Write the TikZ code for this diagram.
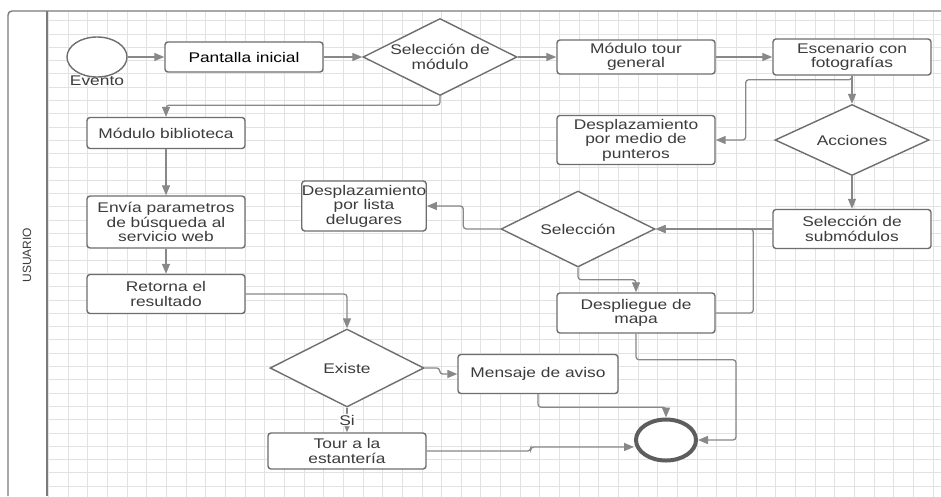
\documentclass[tikz,border=0pt]{standalone}
\usepackage{fontspec}
\setmainfont{Liberation Sans}
\newfontfamily\diafont[FakeStretch=1.24]{Liberation Sans}
\usetikzlibrary{arrows.meta,shapes.geometric,positioning}
\definecolor{linegray}{HTML}{888888}
\definecolor{boxgray}{HTML}{6E6E6E}
\definecolor{txtgray}{HTML}{3C3C3C}
\definecolor{gridgray}{HTML}{E2E2E2}
\definecolor{framegray}{HTML}{7A7A7A}

\begin{document}
\begin{tikzpicture}[>={Triangle[length=10pt,width=8pt]},x=1pt,y=-1pt,
                    node distance=196pt,
                    font=\diafont\fontsize{14}{14.5}\selectfont]
  \tikzstyle{box}=[draw=boxgray,fill=white,line width=1.4pt,rounded corners=3pt,
                   text=txtgray,align=center,inner sep=2pt,
                   minimum width=158pt,minimum height=36pt]
  \tikzstyle{decision}=[diamond,aspect=2,draw=boxgray,fill=white,line width=1.4pt,
                   text=txtgray,align=center,inner sep=0pt,
                   minimum width=154pt,minimum height=77pt]
  \tikzstyle{flow}=[->,draw=linegray,line width=1.3pt,rounded corners=3pt]

  % fondo, cuadricula y carril
  \useasboundingbox (0,0) rectangle (941,496);
  \fill[white] (0,0) rectangle (941,496);
  \begin{scope}
    \clip (47,11) rectangle (941,496);
    \draw[gridgray,line width=0.7pt,xstep=19.66pt,ystep=13.3pt,shift={(9,7.3)}]
      (-40,-40) grid (980,540);
  \end{scope}
  \draw[framegray,line width=1.4pt,rounded corners=4pt] (8,496) -- (8,11) -- (941,11);
  \draw[framegray,line width=2pt] (47,11) -- (47,496);
  \node[rotate=90,text=txtgray,font=\fontsize{12}{14}\selectfont] (usuario) at (27,255) {USUARIO};

  \node[ellipse,draw=boxgray,fill=white,line width=1.4pt,minimum width=60pt,minimum height=40pt,
        label={[text=txtgray,label distance=-5pt]below:Evento}] (evento) at (97,57) {};
  \node[box,text=black,minimum height=30pt] (pantalla) [right of=evento,node distance=147pt] {Pantalla inicial};
  \node[decision]           (selmod)     [right of=pantalla]   {Selección de\\módulo};
  \node[box,minimum height=34pt] (tourgen) [right of=selmod]   {Módulo tour\\general};
  \node[box]                (escenario)  [right of=tourgen,node distance=216pt] {Escenario con\\fotografías};
  \node[box,minimum height=49pt] (punteros) [below of=tourgen,node distance=83pt] {Desplazamiento\\por medio de\\punteros};
  \node[decision,minimum height=71pt] (acciones) [below of=escenario,node distance=83pt] {Acciones};
  \node[box,minimum height=39pt] (submod) [below of=acciones,node distance=89pt] {Selección de\\submódulos};
  \node[decision,minimum height=76pt] (seleccion) [left of=submod,node distance=274pt] {Selección};
  \node[box,minimum width=124pt,minimum height=50pt,inner sep=0pt] (lista)
        [left of=seleccion,node distance=214pt,yshift=23pt] {Desplazamiento\\por lista\\delugares};
  \node[box,minimum height=40pt] (despliegue) [below of=punteros,node distance=173pt] {Despliegue de\\mapa};

  \node[box,minimum height=31pt] (biblioteca) at (166,133) {Módulo biblioteca};
  \node[box,minimum height=52pt] (envia)   [below of=biblioteca,node distance=89pt] {Envía parametros\\de búsqueda al\\servicio web};
  \node[box,minimum height=39pt] (retorna) [below of=envia,node distance=72pt] {Retorna el\\resultado};
  \node[decision,minimum height=78pt] (existe) [below of=retorna,node distance=74pt,xshift=181pt] {Existe};
  \node[box,minimum height=36pt] (estanteria) [below of=existe,node distance=83pt] {Tour a la\\estantería};
  \node[box,minimum width=160pt,minimum height=39pt] (mensaje)
        [right of=existe,node distance=191pt,yshift=-6pt] {Mensaje de aviso};
  \node[ellipse,draw=boxgray!85!black,fill=white,line width=4pt,minimum width=60pt,minimum height=41pt]
        (fin) [right of=mensaje,node distance=128pt,yshift=-66pt] {};

  % conectores
  \draw[flow] (evento) -- (pantalla);
  \draw[flow] (pantalla) -- (selmod);
  \draw[flow] (selmod) -- (tourgen);
  \draw[flow] (tourgen) -- (escenario);
  \draw[flow] (selmod.south) -- ++(0,9) -| (biblioteca.north);
  \draw[flow] (escenario) -- (acciones);
  \draw[flow] (escenario.south) -- ++(0,4) -| ([xshift=30pt]punteros.east) -- (punteros.east);
  \draw[flow] (acciones) -- (submod);
  \draw[flow] (submod) -- (seleccion);
  \draw[flow] (seleccion.west) -- ++(-37,0) |- (lista.east);
  \draw[flow] (seleccion.south) -- ++(0,12) -| (despliegue.north);
  \draw[flow] (despliegue.east) -| ([xshift=-19pt]submod.west) -- (seleccion.east);
  \draw[flow] (despliegue.south) -- ++(0,26) -| ([xshift=38pt]fin.east) -- (fin.east);
  \draw[flow] (biblioteca) -- (envia);
  \draw[flow] (envia) -- (retorna);
  \draw[flow] (retorna.east) -| (existe.north);
  \draw[flow] (existe.east) -- ++(15,0) |- (mensaje.west);
  \draw[flow] (existe) -- (estanteria) node[midway,fill=white,text=txtgray,inner sep=1pt] {Si};
  \draw[flow] (mensaje.south) -- ++(0,13) -| (fin.north);
  \draw[flow] (estanteria.east) -- ++(104,0) |- ([yshift=-7pt]fin.west);
\end{tikzpicture}
\end{document}
